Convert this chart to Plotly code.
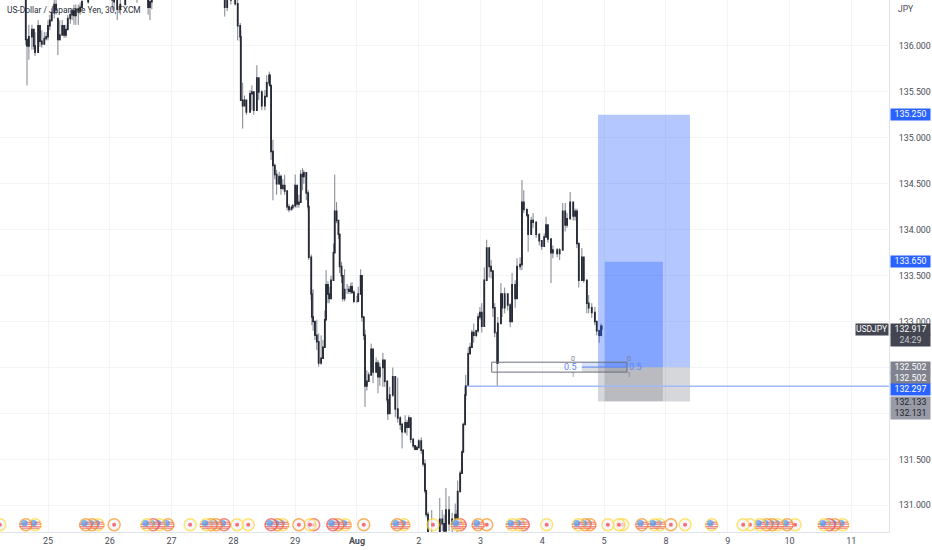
import plotly.graph_objects as go

FONT = "Roboto"
# ---- data -----------------------------------------------------------------
day_labels = ["25", "26", "27", "28", "29", "<b>Aug</b>", "2", "3", "4", "5", "8", "9", "10", "11"]
day_ticks = list(range(14))
price_ticks = [131.0, 131.5, 132.0, 132.5, 133.0, 133.5, 134.0, 134.5, 135.0, 135.5, 136.0]
price_labels = ["131.000", "131.500", "", "", "133.000", "133.500", "134.000", "134.500", "135.000", "135.500", "136.000"]

bar_x = [
 -0.36,-0.34,-0.31,-0.26,-0.23,-0.21,-0.16,-0.13,-0.10,-0.06,
 -0.03,0.00,0.03,0.06,0.10,0.13,0.16,0.19,0.23,0.26,
 0.29,0.32,0.36,0.39,0.42,0.45,0.49,0.52,0.55,0.65,
 0.84,1.04,1.07,1.12,1.17,1.25,1.44,1.62,1.65,1.68,
 1.89,2.30,2.62,2.86,2.90,2.96,3.03,3.07,3.11,3.12,
 3.15,3.18,3.21,3.27,3.30,3.33,3.38,3.41,3.46,3.51,
 3.54,3.58,3.59,3.61,3.64,3.67,3.70,3.74,3.77,3.80,
 3.83,3.87,3.90,3.94,3.96,4.00,4.03,4.06,4.09,4.12,
 4.14,4.18,4.21,4.22,4.26,4.27,4.29,4.32,4.35,4.38,
 4.42,4.45,4.48,4.50,4.53,4.55,4.58,4.62,4.64,4.67,
 4.70,4.72,4.75,4.77,4.80,4.84,4.87,4.90,4.92,4.95,
 5.00,5.02,5.06,5.08,5.11,5.13,5.16,5.19,5.23,5.26,
 5.31,5.34,5.37,5.42,5.45,5.49,5.50,5.53,5.58,5.62,
 5.66,5.70,5.73,5.78,5.81,5.84,5.87,5.91,5.94,5.97,
 6.00,6.04,6.07,6.10,6.12,6.15,6.18,6.21,6.28,6.34,
 6.38,6.41,6.44,6.49,6.54,6.59,6.62,6.63,6.67,6.70,
 6.72,6.75,6.76,6.80,6.83,6.86,6.89,6.93,6.96,6.99,
 7.02,7.06,7.10,7.14,7.17,7.20,7.23,7.27,7.28,7.33,
 7.35,7.39,7.44,7.48,7.51,7.56,7.59,7.64,7.67,7.70,
 7.75,7.77,7.82,7.85,7.90,7.95,7.99,8.03,8.06,8.09,
 8.14,8.17,8.24,8.28,8.33,8.37,8.40,8.45,8.50,8.53,
 8.56,8.59,8.64,8.67,8.72,8.75,8.80,8.85,8.88,8.92,
 8.95,8.96]
bar_open = [
 136.80,136.07,136.00,136.10,136.18,136.00,135.93,136.22,136.05,136.02,
 136.08,136.10,136.22,136.28,136.36,136.45,136.30,136.07,136.12,136.22,
 136.12,136.18,136.30,136.34,136.38,136.33,136.40,136.38,136.42,136.48,
 136.65,136.62,136.50,136.50,136.40,136.45,136.55,136.60,136.42,136.48,
 136.70,136.80,136.70,136.55,136.42,136.50,136.55,136.46,136.22,136.10,
 135.41,135.35,135.41,135.28,135.48,135.50,135.30,135.65,135.50,135.35,
 135.45,135.60,135.68,135.57,134.85,134.70,134.60,134.50,134.58,134.45,
 134.48,134.42,134.25,134.22,134.24,134.26,134.48,134.28,134.30,134.60,
 134.58,134.62,134.40,134.25,133.70,133.30,133.05,133.00,132.85,132.78,
 132.55,132.60,132.72,133.02,133.40,133.30,133.25,133.45,133.75,134.20,
 134.10,133.95,133.60,133.50,133.25,133.35,133.35,133.33,133.38,133.32,
 133.22,133.22,133.30,133.50,133.05,132.85,132.30,132.35,132.42,132.70,
 132.45,132.55,132.40,132.50,132.58,132.35,132.15,132.00,132.20,132.40,
 132.05,131.95,131.88,131.80,131.90,131.85,131.95,131.72,131.65,131.61,
 131.63,131.70,131.60,131.45,131.16,130.90,130.65,130.55,130.70,130.60,
 130.85,130.80,130.72,130.95,130.80,130.85,130.90,130.85,131.15,131.35,
 131.58,131.88,132.20,132.30,132.65,132.72,132.88,132.85,132.90,133.05,
 133.10,132.95,133.45,133.80,133.60,133.55,133.15,132.88,132.55,132.98,
 133.30,133.15,133.30,133.18,133.00,133.40,133.25,133.60,133.62,134.30,
 134.22,134.16,133.95,134.10,134.08,133.95,133.88,133.82,133.92,134.05,
 133.90,133.75,133.78,133.74,133.78,134.20,134.05,134.12,134.30,134.15,
 134.20,133.85,133.45,133.70,133.45,133.20,133.15,133.10,133.00,132.90,
 132.85,132.95]
bar_high = [
 136.80,136.07,136.23,136.23,136.18,136.15,136.28,136.23,136.17,136.15,
 136.15,136.28,136.34,136.41,136.60,136.60,136.30,136.28,136.28,136.23,
 136.23,136.34,136.39,136.41,136.45,136.45,136.45,136.47,136.55,136.70,
 136.80,136.65,136.62,136.60,136.55,136.65,136.75,136.65,136.60,136.62,
 136.90,136.90,136.80,136.70,136.60,136.70,136.60,136.50,136.25,136.17,
 135.60,135.46,135.41,135.52,135.57,135.50,135.79,135.65,135.52,135.52,
 135.68,135.72,135.69,135.57,134.98,134.72,134.65,134.63,134.60,134.55,
 134.60,134.42,134.28,134.26,134.28,134.60,134.48,134.38,134.65,134.67,
 134.65,134.62,134.43,134.27,133.73,133.35,133.35,133.00,133.02,132.87,
 132.85,132.80,133.12,133.56,133.44,133.38,133.50,133.85,134.60,134.30,
 134.10,133.95,133.65,133.50,133.57,133.41,133.39,133.42,133.43,133.34,
 133.28,133.38,133.57,133.50,133.05,132.91,132.47,132.45,132.76,132.70,
 132.61,132.58,132.55,132.66,132.58,132.35,132.15,132.29,132.50,132.40,
 132.39,131.97,131.90,131.98,131.93,131.98,131.95,131.72,131.65,131.65,
 131.72,131.74,131.60,131.50,131.16,130.93,130.70,130.95,130.70,131.08,
 130.95,130.90,131.19,131.10,130.92,131.02,130.95,131.27,131.38,131.60,
 131.90,132.29,132.42,132.72,132.77,132.91,132.98,132.91,133.09,133.16,
 133.20,133.59,133.89,133.81,133.67,133.55,133.20,132.88,133.05,133.42,
 133.30,133.37,133.30,133.20,133.53,133.45,133.69,133.70,134.54,134.43,
 134.22,134.16,134.14,134.18,134.08,133.95,133.88,133.96,134.14,134.05,
 133.90,133.83,133.80,133.80,134.29,134.29,134.18,134.41,134.30,134.23,
 134.23,133.85,133.80,133.70,133.45,133.29,133.20,133.16,133.00,132.91,
 132.98,132.95]
bar_low = [
 136.01,135.57,135.85,135.96,135.96,135.89,135.93,135.99,135.98,136.01,
 136.06,136.06,136.17,136.26,136.30,136.34,135.90,136.06,136.12,136.09,
 136.09,136.18,136.24,136.28,136.23,136.23,136.23,136.34,136.39,136.46,
 136.60,136.39,136.38,136.28,136.34,136.45,136.47,136.34,136.28,136.40,
 136.60,136.60,136.60,136.32,136.38,136.45,136.44,136.06,136.05,135.41,
 135.10,135.35,135.25,135.28,135.30,135.25,135.30,135.41,135.30,135.30,
 135.45,135.57,135.57,134.76,134.32,134.55,134.38,134.49,134.38,134.43,
 134.38,134.21,134.19,134.21,134.24,134.24,134.24,134.24,134.30,134.43,
 134.50,134.32,134.21,133.67,133.23,132.96,132.90,132.80,132.69,132.51,
 132.53,132.60,132.72,133.02,133.20,133.20,133.25,133.45,133.75,134.07,
 133.90,133.53,133.42,133.22,133.22,133.30,133.30,133.30,133.30,133.20,
 133.20,133.22,133.30,133.00,132.80,132.07,132.25,132.35,132.42,132.33,
 132.45,132.22,132.30,132.29,132.29,132.11,131.93,132.00,132.18,131.96,
 131.90,131.82,131.62,131.78,131.76,131.85,131.68,131.62,131.60,131.60,
 131.62,131.56,131.42,131.13,130.87,130.60,130.50,130.55,130.40,130.60,
 130.72,130.65,130.72,130.72,130.70,130.80,130.70,130.84,131.15,131.35,
 131.58,131.88,132.15,132.30,132.65,132.72,132.77,132.83,132.88,133.02,
 132.88,132.95,133.45,133.48,133.47,133.05,132.83,132.29,132.55,132.98,
 133.05,133.09,133.12,132.94,133.00,133.15,133.25,133.56,133.56,134.18,
 134.14,133.76,133.95,134.02,133.91,133.83,133.78,133.82,133.92,133.86,
 133.42,133.69,133.70,133.67,133.78,133.98,134.02,134.12,134.10,134.10,
 133.80,133.37,133.45,133.42,133.09,133.09,133.04,132.96,132.85,132.77,
 132.85,132.84]
bar_close = [
 136.07,136.00,136.10,136.18,136.00,135.93,136.22,136.05,136.02,136.08,
 136.10,136.22,136.28,136.36,136.45,136.40,136.07,136.12,136.22,136.12,
 136.18,136.30,136.34,136.38,136.33,136.40,136.38,136.42,136.48,136.60,
 136.70,136.50,136.48,136.40,136.45,136.55,136.60,136.42,136.48,136.55,
 136.80,136.70,136.65,136.42,136.50,136.55,136.46,136.22,136.10,135.41,
 135.35,135.41,135.28,135.48,135.50,135.30,135.65,135.50,135.35,135.45,
 135.60,135.68,135.57,134.85,134.70,134.60,134.50,134.58,134.45,134.48,
 134.42,134.25,134.22,134.24,134.26,134.48,134.28,134.30,134.60,134.58,
 134.62,134.40,134.25,133.70,133.30,133.05,133.00,132.85,132.78,132.55,
 132.60,132.72,133.02,133.40,133.30,133.25,133.45,133.75,134.20,134.10,
 133.95,133.60,133.50,133.25,133.35,133.35,133.33,133.38,133.32,133.22,
 133.22,133.30,133.50,133.05,132.85,132.30,132.35,132.42,132.70,132.45,
 132.55,132.40,132.50,132.58,132.35,132.15,132.00,132.20,132.40,132.05,
 131.95,131.88,131.80,131.90,131.85,131.95,131.72,131.65,131.61,131.63,
 131.70,131.60,131.45,131.16,130.90,130.65,130.55,130.70,130.50,130.85,
 130.80,130.72,130.95,130.80,130.85,130.90,130.85,131.15,131.35,131.58,
 131.88,132.20,132.30,132.65,132.72,132.88,132.85,132.90,133.05,133.10,
 132.95,133.45,133.80,133.60,133.55,133.15,132.88,132.55,132.98,133.30,
 133.15,133.30,133.18,133.00,133.40,133.25,133.60,133.62,134.30,134.22,
 134.16,133.95,134.10,134.08,133.95,133.88,133.82,133.92,134.05,133.90,
 133.75,133.78,133.74,133.78,134.20,134.05,134.12,134.30,134.15,134.20,
 133.85,133.45,133.70,133.45,133.20,133.15,133.10,133.00,132.90,132.85,
 132.95,132.92]

# Economic calendar events: day position, kind (f = flag, d = dot), ring colour
event_x = [-0.78,-0.36,-0.21,0.61,0.71,0.81,1.07,1.60,1.70,1.80,1.94,2.30,2.56,2.64,2.72,2.85,3.06,3.24,
           3.61,3.71,3.80,4.06,4.24,4.30,4.61,4.69,4.81,5.11,5.65,5.76,6.23,6.62,6.67,6.96,7.10,7.51,7.62,7.69,
           8.07,8.58,8.69,8.77,9.06,9.24,9.30,9.61,9.81,9.90,10.08,10.31,10.74,11.25,11.36,11.52,11.63,11.72,
           11.81,11.96,12.09,12.56,12.64,12.73,12.86]
event_kind = list("dff" "fff" "d" "ffff" "d" "ffff" "dd" "fff" "ddd" "fff" "d" "ff" "df" "f" "fd" "fff"
                  "d" "fff" "d" "dd" "fff" "d" "d" "f" "dd" "fffff" "d" "ffff")
Y, O, R = "#fdd835", "#f7931e", "#f0524f"
event_ring = [Y,O,Y, O,O,Y, O, Y,R,Y,O, Y, Y,O,O,R, Y,Y, R,O,Y, O,Y,R, R,O,Y, O, O,Y, Y,Y,R, O,O, Y,Y,R,
              Y, Y,O,O, Y,Y,Y, O,Y,Y, O,Y, Y, Y,Y, Y,O,O,Y, O,Y, Y,R,O,Y]
event_level = 130.79

stop_level = 132.502
target_outer, target_inner = 135.250, 133.650
stop_outer, stop_inner = 132.131, 132.133
entry_line = 132.297
last_price = 132.917
fib_top, fib_mid, fib_bottom = 132.558, 132.505, 132.450

# ---- figure ---------------------------------------------------------------
fig = go.Figure()
wick, body = "#80838d", "#262a36"
fig.add_trace(go.Candlestick(
    x=bar_x, open=bar_open, high=bar_high, low=bar_low, close=bar_close, hoverinfo="skip", showlegend=False,
    increasing=dict(line=dict(color=wick, width=1), fillcolor=wick),
    decreasing=dict(line=dict(color=wick, width=1), fillcolor=wick)))
fig.add_trace(go.Candlestick(
    x=bar_x, open=bar_open, close=bar_close,
    high=[max(a, b) for a, b in zip(bar_open, bar_close)],
    low=[min(a, b) for a, b in zip(bar_open, bar_close)], hoverinfo="skip", showlegend=False,
    increasing=dict(line=dict(color=body, width=1.5), fillcolor=body),
    decreasing=dict(line=dict(color=body, width=1.5), fillcolor=body)))

# event icons: one marker trace, painted in order so overlaps match
PX, PY = 1 / 61.8, 0.0109
ex, ey, es, ez, ec, elc, elw = [], [], [], [], [], [], []
def dot(x, y, sym, size, col, lcol=None, lw=0):
    ex.append(x); ey.append(y); es.append(sym); ez.append(size); ec.append(col)
    elc.append(lcol or col); elw.append(lw)
for x, k, ring in reversed(list(zip(event_x, event_kind, event_ring))):
    y = event_level
    dot(x, y, "circle", 12, "#ffffff" if k == "f" else "#f3f4f8", ring, 1.5)
    if k == "d":
        dot(x, y, "circle", 4, "#f23645")
    else:
        red = "#ef5350"
        dot(x, y + 0.5 * PY, "line-ew", 9, red, red, 1.2)
        dot(x, y - 2 * PY, "line-ew", 9, red, red, 1.2)
        dot(x, y - 3.6 * PY, "line-ew", 6, red, red, 1.2)
        dot(x + 2.4 * PX, y + 2.4 * PY, "line-ew", 4, red, red, 1.2)
        dot(x - 1.4 * PX, y + 1.5 * PY, "circle", 6.5, "#4d94ea")
fig.add_trace(go.Scatter(x=ex, y=ey, mode="markers", hoverinfo="skip", showlegend=False,
                         marker=dict(symbol=es, size=ez, color=ec, line=dict(color=elc, width=elw))))

BLUE, GREY = "rgba(41,98,255,0.35)", "rgba(120,123,134,0.30)"
def rect(x0, x1, y0, y1, fill, line=None, lw=0):
    fig.add_shape(type="rect", x0=x0, x1=x1, y0=y0, y1=y1, fillcolor=fill, layer="above",
                  line=dict(color=line or "rgba(0,0,0,0)", width=lw))
rect(8.90, 10.39, stop_level, target_outer, BLUE)
rect(8.90, 10.39, stop_outer, stop_level, GREY)
rect(9.01, 9.95, stop_level, target_inner, BLUE)
rect(9.01, 9.95, stop_inner, stop_level, GREY)
# fib box
rect(8.64, 9.37, fib_mid, fib_top, "rgba(41,98,255,0.18)")
rect(8.64, 9.37, fib_bottom, fib_mid, "rgba(120,123,134,0.25)")
rect(7.18, 9.37, fib_bottom, fib_top, "rgba(0,0,0,0)", "#6b6e78", 1)
fig.add_shape(type="line", x0=8.64, x1=9.37, y0=fib_mid, y1=fib_mid, line=dict(color="#5b86f5", width=1))
fig.add_shape(type="line", x0=6.78, x1=13.61, y0=entry_line, y1=entry_line, line=dict(color="#9fb9fb", width=1.5))

ann = []
def text(x, y, s, size=7, color="#7c8089", **kw):
    ann.append(dict(x=x, y=y, text=s, showarrow=False, xref="x", yref="y",
                    font=dict(family=FONT, size=size, color=color), **kw))
text(8.45, fib_mid, "0.5", 9, "#5b86f5")
text(8.5, fib_top, "0", 7, yshift=3); text(8.5, fib_bottom, "1", 7, yshift=-3)
text(9.50, fib_mid, "0.5", 9, "#5b86f5")
text(9.40, fib_top, "0", 7, yshift=3); text(9.40, fib_bottom, "1", 7, yshift=-3)

def tag(y, s, bg, color, yshift=0):
    ann.append(dict(xref="paper", yref="y", x=1.0015, y=y, yshift=yshift, xanchor="left", text=s, showarrow=False,
                    bgcolor=bg, width=39, height=10.5, borderpad=0, align="center",
                    font=dict(family=FONT, size=8.8, color=color)))
tag(target_outer, "135.250", "#2962ff", "#ffffff")
tag(target_inner, "133.650", "#2962ff", "#ffffff")
tag(last_price, "132.917", "#434651", "#ffffff")
tag(last_price, "24:29", "#434651", "#c5c7cd", yshift=-11)
tag(stop_level, "132.502", "#80838e", "#ffffff")
tag(stop_level, "132.502", "#80838e", "#ffffff", yshift=-11)
tag(entry_line, "132.297", "#2962ff", "#ffffff", yshift=-3.5)
tag(stop_inner, "132.133", "#989ba5", "#1e222d", yshift=-1.5)
tag(stop_outer, "132.131", "#989ba5", "#1e222d", yshift=-12.5)
ann.append(dict(xref="paper", yref="y", x=0.9995, y=last_price, xanchor="right", text="USDJPY", showarrow=False,
                bgcolor="#434651", width=32, height=10.5, borderpad=0,
                font=dict(family=FONT, size=8.5, color="#ffffff")))
ann.append(dict(xref="paper", yref="paper", x=1.0075, y=1.0, yanchor="top", xanchor="left", text="JPY",
                showarrow=False, yshift=-2, font=dict(family=FONT, size=8.5, color="#4a4d57")))
ann.append(dict(xref="paper", yref="paper", x=0.0055, y=1.0, yanchor="top", xanchor="left",
                text="US-Dollar / Japanese Yen, 30, FXCM", showarrow=False, yshift=-3,
                font=dict(family=FONT, size=8.4, color="#2a2e39")))

axis_common = dict(showgrid=True, gridcolor="#f3f4f6", gridwidth=1, zeroline=False, showline=True,
                   linecolor="#e0e3eb", linewidth=1, ticks="", mirror=False, automargin=False)
fig.update_layout(
    width=932, height=550, margin=dict(l=0, r=43, t=0, b=18), paper_bgcolor="#ffffff", plot_bgcolor="#ffffff",
    showlegend=False, annotations=ann,
    xaxis=dict(range=[-0.777, 13.61], tickmode="array", tickvals=day_ticks, ticktext=day_labels,
               rangeslider=dict(visible=False), tickfont=dict(family=FONT, size=9, color="#4a4d57"), **axis_common),
    yaxis=dict(range=[130.71, 136.5], side="right", tickmode="array", tickvals=price_ticks, ticktext=price_labels,
               ticklabelstandoff=7, tickfont=dict(family=FONT, size=8.8, color="#4a4d57"), **axis_common))

fig.write_html("out.html", config={"displayModeBar": False},
               post_script="document.body.style.margin='0';document.body.style.overflow='hidden';")
